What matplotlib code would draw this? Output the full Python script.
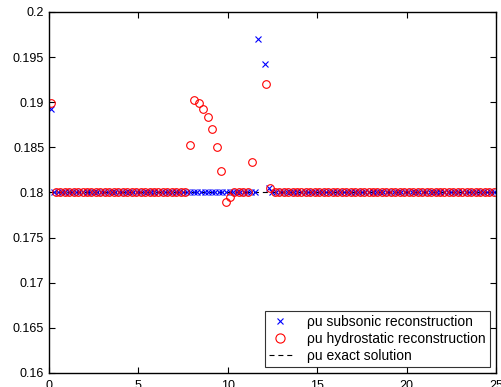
import numpy as np
import matplotlib
matplotlib.use('Agg')
from matplotlib import pyplot as plt

# fonts and sizes
plt.rcParams['font.family'] = ['Liberation Sans', 'DejaVu Sans']
plt.rcParams['font.size'] = 9

# hydrostatic reconstruction: 100 cells on [0, 25]
x_hyd = 0.125 + 0.25 * np.arange(100)
rhou_hyd = np.full(100, 0.18)
rhou_hyd[0] = 0.18995
rhou_hyd[1] = 0.1801
# cells 31..40 around the bump
rhou_hyd[31:41] = [0.18526, 0.19022, 0.18988, 0.18929, 0.18840,
                   0.18704, 0.18508, 0.18238, 0.17898, 0.17953]
rhou_hyd[45] = 0.18338
rhou_hyd[46] = np.nan   # above 0.2
rhou_hyd[47] = np.nan   # above 0.2
rhou_hyd[48] = 0.19202
rhou_hyd[49] = 0.18047

# subsonic reconstruction: 125 cells on [0, 25]
x_sub = 0.1 + 0.2 * np.arange(125)
rhou_sub = np.full(125, 0.18)
rhou_sub[0] = 0.18925
rhou_sub[1] = 0.1801
rhou_sub[58] = 0.19701
rhou_sub[59] = np.nan   # above 0.2
rhou_sub[60] = 0.19427
rhou_sub[61] = 0.18047

# exact solution
x_exact = [0, 25]
rhou_exact = [0.18, 0.18]

fig = plt.figure(figsize=(5.01, 3.87), dpi=100)
ax = fig.add_axes([0.0978, 0.0362, 0.892, 0.933])

ax.plot(x_sub, rhou_sub, 'x', color='#0000ff', markersize=4,
        markeredgewidth=0.8, label='ρu subsonic reconstruction')
ax.plot(x_hyd, rhou_hyd, 'o', color='#ff0000', markerfacecolor='none',
        markersize=5.5, markeredgewidth=0.8, label='ρu hydrostatic reconstruction')
ax.plot(x_exact, rhou_exact, color='black', linewidth=0.8, dashes=(4.5, 3.5),
        label='ρu exact solution', zorder=1)

ax.set_xlim(0, 25)
ax.set_ylim(0.16, 0.2)
ax.set_xticks(np.arange(0, 26, 5))
ax.set_yticks(np.arange(0.16, 0.2001, 0.005))
ax.set_yticklabels(['0.16', '0.165', '0.17', '0.175', '0.18',
                    '0.185', '0.19', '0.195', '0.2'])
ax.tick_params(direction='in', top=True, right=True, length=4, width=0.8)
ax.tick_params(axis='x', pad=5)
for s in ax.spines.values():
    s.set_linewidth(1.0)

leg = ax.legend(loc='lower right', fontsize=10, frameon=True, fancybox=False,
                edgecolor='black', borderaxespad=0.45, handlelength=1.6,
                borderpad=0.3, labelspacing=0.2, handletextpad=1.1,
                markerscale=1.2)
leg.get_frame().set_linewidth(0.8)

fig.savefig('out.png', dpi=100)
